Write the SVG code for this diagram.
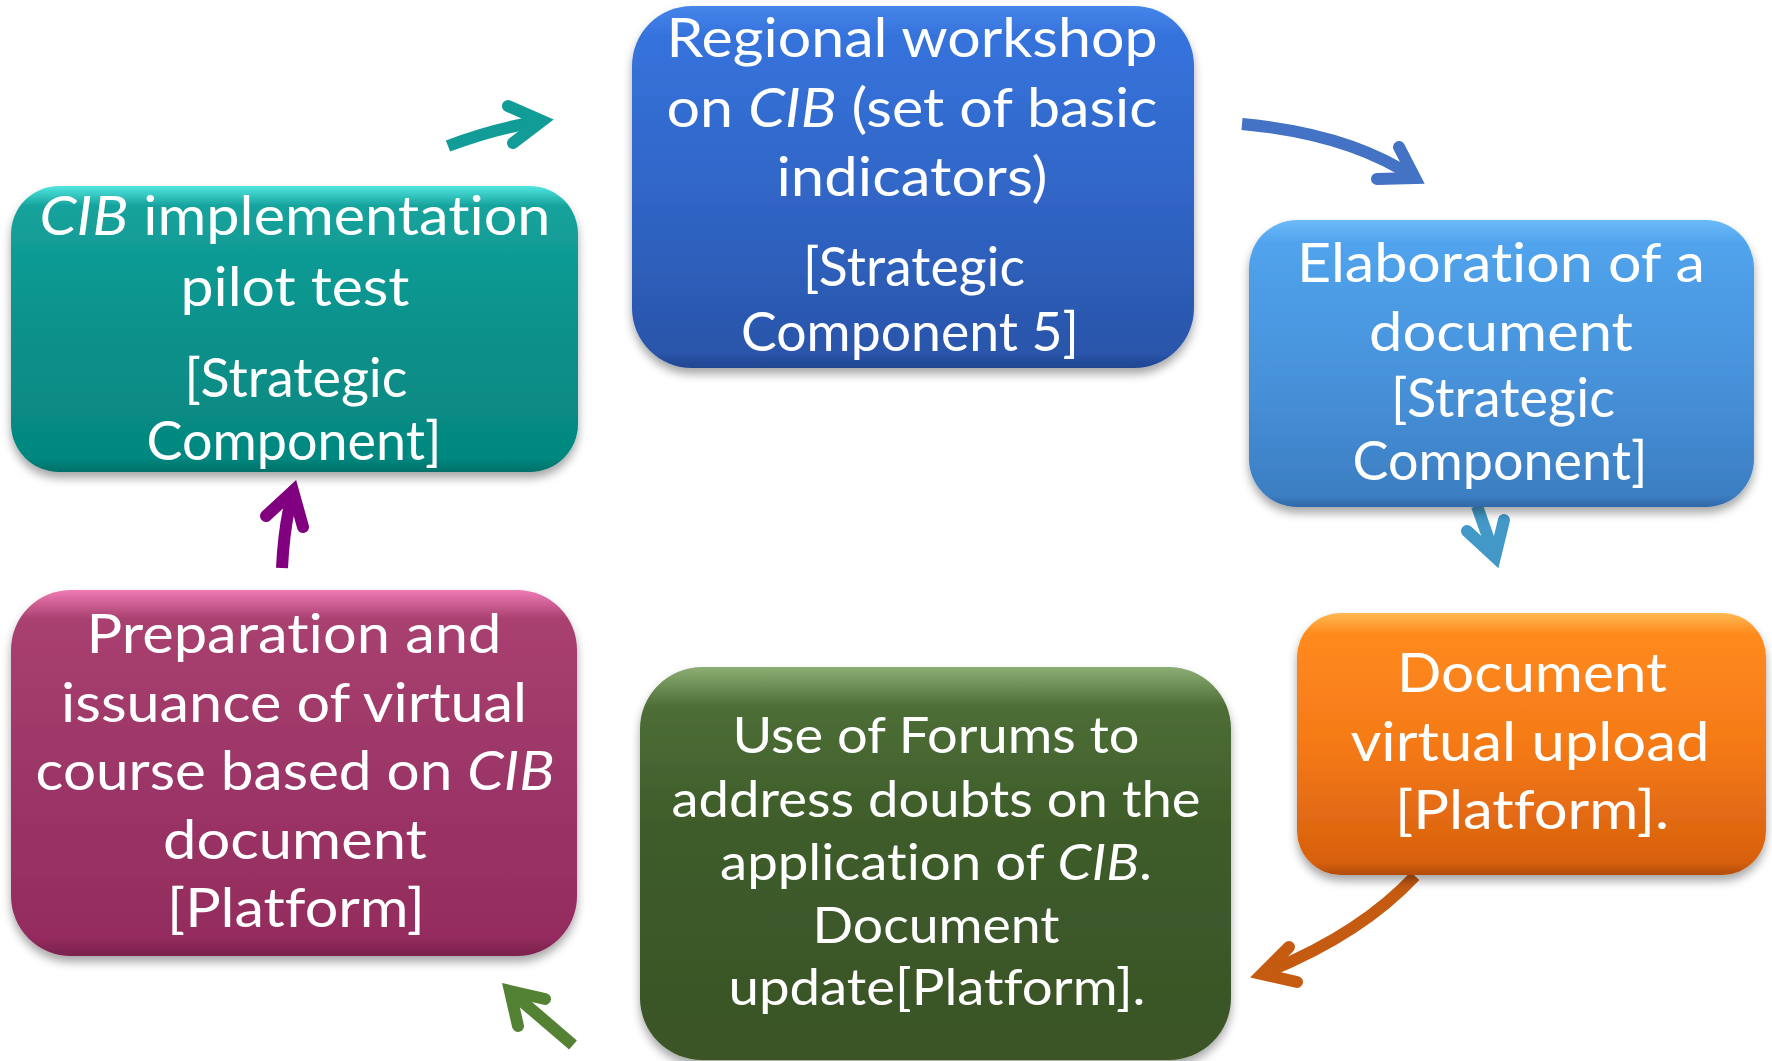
<svg xmlns="http://www.w3.org/2000/svg" width="1772" height="1061" viewBox="0 0 1772 1061">
<style>
.lbl{font-family:Lato,"Open Sans","Liberation Sans",sans-serif;font-size:55px;fill:#fff;text-anchor:middle;font-variant-ligatures:none}
.sm{font-size:50px}
.it{font-style:italic}
.shaft{fill:none;stroke-width:12;stroke-linecap:butt}
.head{fill:none;stroke-width:12;stroke-linecap:round;stroke-linejoin:miter;stroke-miterlimit:10}
</style>
<defs>
<filter id="sh" x="-10%" y="-10%" width="120%" height="130%">
<feDropShadow dx="0" dy="6" stdDeviation="5" flood-color="#000" flood-opacity="0.35"/>
</filter>
<linearGradient id="gTeal" x1="0" y1="0" x2="0" y2="1">
<stop offset="0" stop-color="#52E6E1"/><stop offset="0.07" stop-color="#15A29C"/><stop offset="0.5" stop-color="#0A918B"/><stop offset="0.95" stop-color="#058880"/><stop offset="1" stop-color="#037068"/>
</linearGradient>
<linearGradient id="gBlue" x1="0" y1="0" x2="0" y2="1">
<stop offset="0" stop-color="#4585EA"/><stop offset="0.08" stop-color="#3673DC"/><stop offset="0.6" stop-color="#2F63C2"/><stop offset="0.96" stop-color="#2A55AA"/><stop offset="1" stop-color="#1F4590"/>
</linearGradient>
<linearGradient id="gLBlue" x1="0" y1="0" x2="0" y2="1">
<stop offset="0" stop-color="#6CBBFA"/><stop offset="0.08" stop-color="#50A3EC"/><stop offset="0.6" stop-color="#4690D8"/><stop offset="0.96" stop-color="#3C7EC2"/><stop offset="1" stop-color="#2F68A8"/>
</linearGradient>
<linearGradient id="gOrange" x1="0" y1="0" x2="0" y2="1">
<stop offset="0" stop-color="#FFB851"/><stop offset="0.08" stop-color="#FF8A1E"/><stop offset="0.5" stop-color="#F57A18"/><stop offset="0.95" stop-color="#D8600E"/><stop offset="1" stop-color="#B24C08"/>
</linearGradient>
<linearGradient id="gGreen" x1="0" y1="0" x2="0" y2="1">
<stop offset="0" stop-color="#8CAE74"/><stop offset="0.1" stop-color="#4D6E36"/><stop offset="0.4" stop-color="#3E5C2A"/><stop offset="1" stop-color="#3A5427"/>
</linearGradient>
<linearGradient id="gMag" x1="0" y1="0" x2="0" y2="1">
<stop offset="0" stop-color="#F07AB5"/><stop offset="0.08" stop-color="#A8406F"/><stop offset="0.5" stop-color="#9C3668"/><stop offset="0.95" stop-color="#942C5E"/><stop offset="1" stop-color="#7A204C"/>
</linearGradient>
</defs>
<rect width="1772" height="1061" fill="#fff"/>

<g id="connectors">
<g id="c-teal" stroke="#129C97">
<path class="shaft" d="M448,146 Q495,128 542,121"/>
<polyline class="head" points="508,106 542,121 513,143"/>
</g>
<g id="c-blue" stroke="#4472C4">
<path class="shaft" d="M1242,124 Q1350,134 1415,178"/>
<polyline class="head" points="1399,147 1415,178 1377,179"/>
</g>
<g id="c-lblue" stroke="#4299C7">
<path class="shaft" d="M1477,506 L1495,557"/>
<polyline class="head" points="1467,531 1495,557 1504,520"/>
</g>
<g id="c-orange" stroke="#C55A11">
<path class="shaft" d="M1415,876 Q1360,935 1262,974"/>
<polyline class="head" points="1289,947 1262,974 1297,982"/>
</g>
<g id="c-green" stroke="#548235">
<path class="shaft" d="M573,1045 L510,991"/>
<polyline class="head" points="545,999 510,991 518,1026"/>
</g>
<g id="c-purple" stroke="#800080">
<path class="shaft" d="M282,568 Q284,525 293,492"/>
<polyline class="head" points="266,516 293,491 303,527"/>
</g>
</g>

<g id="n-pilot">
<rect x="11" y="186" width="567" height="286" rx="48" fill="url(#gTeal)" filter="url(#sh)"/>
<text class="lbl" x="295" y="235" textLength="511" lengthAdjust="spacingAndGlyphs"><tspan class="it">CIB</tspan> implementation</text>
<text class="lbl" x="295" y="306" textLength="229" lengthAdjust="spacingAndGlyphs">pilot test</text>
<text class="lbl" x="296" y="397" textLength="223" lengthAdjust="spacingAndGlyphs">[Strategic</text>
<text class="lbl" x="294" y="460" textLength="295" lengthAdjust="spacingAndGlyphs">Component]</text>
</g>

<g id="n-workshop">
<rect x="632" y="6" width="562" height="362" rx="60" fill="url(#gBlue)" filter="url(#sh)"/>
<text class="lbl" x="912" y="57" textLength="491" lengthAdjust="spacingAndGlyphs">Regional workshop</text>
<text class="lbl" x="912" y="127" textLength="491" lengthAdjust="spacingAndGlyphs">on <tspan class="it">CIB</tspan> (set of basic</text>
<text class="lbl" x="912" y="196" textLength="271" lengthAdjust="spacingAndGlyphs">indicators)</text>
<text class="lbl" x="914" y="286" textLength="222" lengthAdjust="spacingAndGlyphs">[Strategic</text>
<text class="lbl" x="910" y="351" textLength="338" lengthAdjust="spacingAndGlyphs">Component 5]</text>
</g>

<g id="n-elaboration">
<rect x="1249" y="220" width="505" height="287" rx="48" fill="url(#gLBlue)" filter="url(#sh)"/>
<text class="lbl" x="1501" y="282" textLength="408" lengthAdjust="spacingAndGlyphs">Elaboration of a</text>
<text class="lbl" x="1501" y="351" textLength="264" lengthAdjust="spacingAndGlyphs">document</text>
<text class="lbl" x="1503" y="417" textLength="224" lengthAdjust="spacingAndGlyphs">[Strategic</text>
<text class="lbl" x="1500" y="480" textLength="295" lengthAdjust="spacingAndGlyphs">Component]</text>
</g>

<g id="n-upload">
<rect x="1297" y="613" width="469" height="262" rx="44" fill="url(#gOrange)" filter="url(#sh)"/>
<text class="lbl" x="1532" y="692" textLength="270" lengthAdjust="spacingAndGlyphs">Document</text>
<text class="lbl" x="1530" y="761" textLength="359" lengthAdjust="spacingAndGlyphs">virtual upload</text>
<text class="lbl" x="1532" y="829" textLength="274" lengthAdjust="spacingAndGlyphs">[Platform].</text>
</g>

<g id="n-forums">
<rect x="640" y="667" width="591" height="393" rx="62" fill="url(#gGreen)" filter="url(#sh)"/>
<text class="lbl sm" x="936" y="753" textLength="407" lengthAdjust="spacingAndGlyphs">Use of Forums to</text>
<text class="lbl sm" x="936" y="817" textLength="529" lengthAdjust="spacingAndGlyphs">address doubts on the</text>
<text class="lbl sm" x="936" y="880" textLength="432" lengthAdjust="spacingAndGlyphs">application of <tspan class="it">CIB</tspan>.</text>
<text class="lbl sm" x="936" y="943" textLength="247" lengthAdjust="spacingAndGlyphs">Document</text>
<text class="lbl sm" x="937" y="1005" textLength="417" lengthAdjust="spacingAndGlyphs">update[Platform].</text>
</g>

<g id="n-course">
<rect x="11" y="590" width="566" height="366" rx="60" fill="url(#gMag)" filter="url(#sh)"/>
<text class="lbl" x="294" y="653" textLength="415" lengthAdjust="spacingAndGlyphs">Preparation and</text>
<text class="lbl" x="294" y="722" textLength="466" lengthAdjust="spacingAndGlyphs">issuance of virtual</text>
<text class="lbl" x="295" y="790" textLength="519" lengthAdjust="spacingAndGlyphs">course based on <tspan class="it">CIB</tspan></text>
<text class="lbl" x="295" y="859" textLength="264" lengthAdjust="spacingAndGlyphs">document</text>
<text class="lbl" x="296" y="927" textLength="258" lengthAdjust="spacingAndGlyphs">[Platform]</text>
</g>
</svg>
